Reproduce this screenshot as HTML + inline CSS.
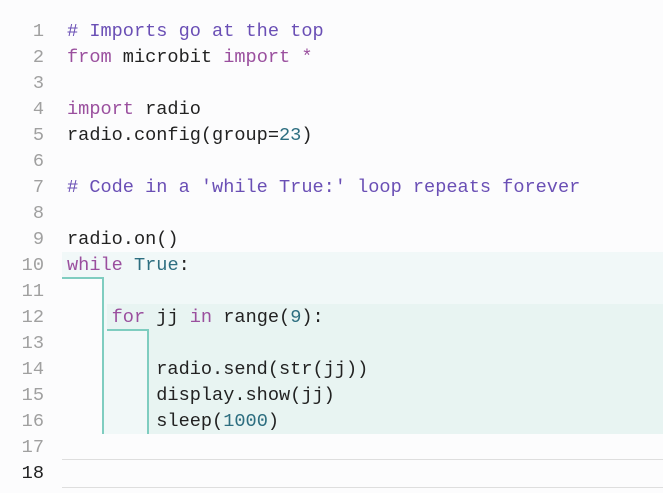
<!DOCTYPE html>
<html><head><meta charset="utf-8"><style>
html,body{margin:0;padding:0;background:#fcfcfd;width:663px;height:493px;overflow:hidden;position:relative;font-family:"Liberation Mono",monospace;font-size:18.6px}
.b{position:absolute}
.t{position:absolute;left:0;top:2px;width:663px;height:493px}
.ln{position:absolute;left:0;width:44px;text-align:right;color:#a0a0a0;line-height:26px;height:26px}
.c{position:absolute;left:67px;line-height:26px;height:26px;white-space:pre;color:#222}
.k{color:#9a4f9e}.cm{color:#6a4fb5}.n{color:#2d6e80}
</style></head><body>
<div class="b" style="left:62px;top:252px;width:601px;height:26px;background:#f1f8f8"></div>
<div class="b" style="left:103px;top:278px;width:560px;height:156px;background:#f1f8f8"></div>
<div class="b" style="left:107px;top:304px;width:556px;height:26px;background:#e8f4f2"></div>
<div class="b" style="left:148px;top:330px;width:515px;height:104px;background:#e8f4f2"></div>
<div class="b" style="left:62px;top:277px;width:42px;height:2px;background:#7fcdc0"></div>
<div class="b" style="left:102px;top:277px;width:2px;height:157px;background:#7fcdc0"></div>
<div class="b" style="left:107px;top:329px;width:42px;height:2px;background:#7fcdc0"></div>
<div class="b" style="left:147px;top:329px;width:2px;height:105px;background:#7fcdc0"></div>
<div class="b" style="left:62px;top:459px;width:601px;height:1px;background:#dedede"></div>
<div class="b" style="left:62px;top:487px;width:601px;height:1px;background:#dedede"></div>
<div class="t">
<div class="ln" style="top:17px">1</div>
<div class="ln" style="top:43px">2</div>
<div class="ln" style="top:69px">3</div>
<div class="ln" style="top:95px">4</div>
<div class="ln" style="top:121px">5</div>
<div class="ln" style="top:147px">6</div>
<div class="ln" style="top:173px">7</div>
<div class="ln" style="top:199px">8</div>
<div class="ln" style="top:225px">9</div>
<div class="ln" style="top:251px">10</div>
<div class="ln" style="top:277px">11</div>
<div class="ln" style="top:303px">12</div>
<div class="ln" style="top:329px">13</div>
<div class="ln" style="top:355px">14</div>
<div class="ln" style="top:381px">15</div>
<div class="ln" style="top:407px">16</div>
<div class="ln" style="top:433px">17</div>
<div class="ln" style="top:459px;color:#222">18</div>

<div class="c cm" style="top:17px"># Imports go at the top</div>
<div class="c" style="top:43px"><span class="k">from</span> microbit <span class="k">import</span> <span class="k">*</span></div>
<div class="c" style="top:95px"><span class="k">import</span> radio</div>
<div class="c" style="top:121px">radio.config(group=<span class="n">23</span>)</div>
<div class="c cm" style="top:173px"># Code in a 'while True:' loop repeats forever</div>
<div class="c" style="top:225px">radio.on()</div>
<div class="c" style="top:251px"><span class="k">while</span> <span class="n">True</span>:</div>
<div class="c" style="top:303px">    <span class="k">for</span> jj <span class="k">in</span> range(<span class="n">9</span>):</div>
<div class="c" style="top:355px">        radio.send(str(jj))</div>
<div class="c" style="top:381px">        display.show(jj)</div>
<div class="c" style="top:407px">        sleep(<span class="n">1000</span>)</div>
</div>
</body></html>
